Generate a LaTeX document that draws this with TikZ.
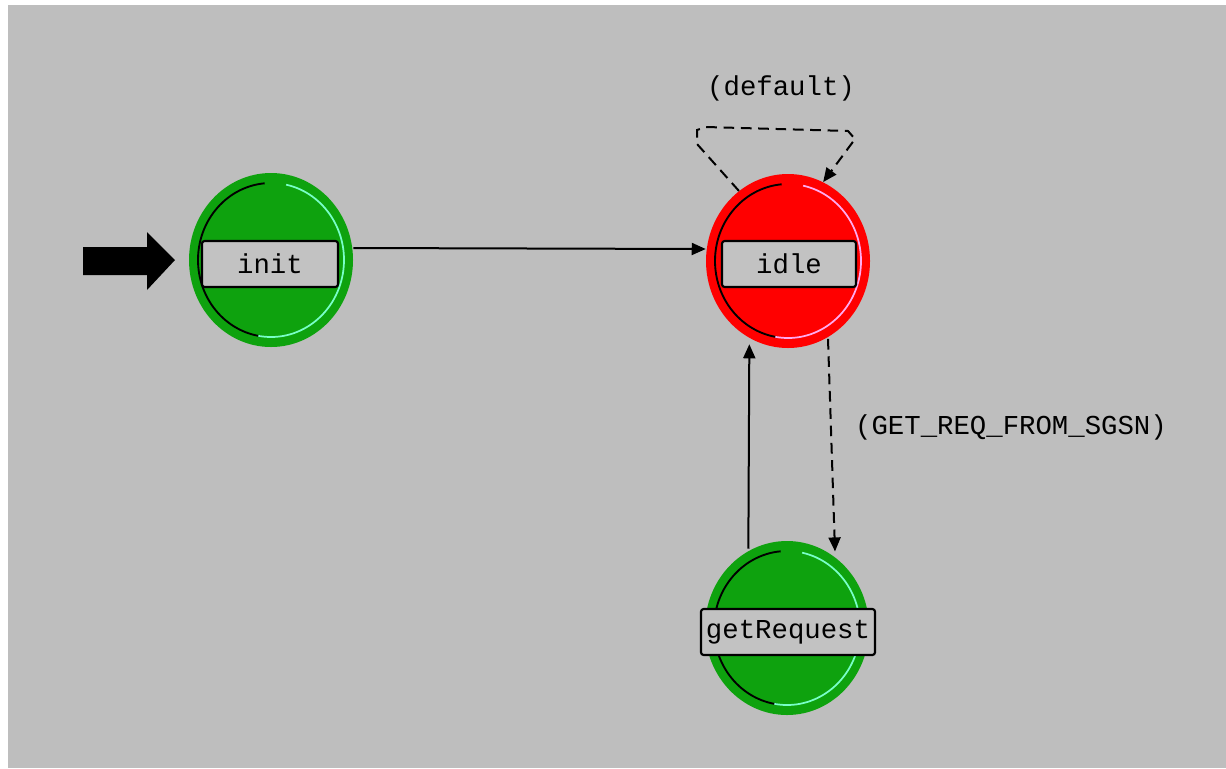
\documentclass[tikz,border=0pt]{standalone}
\usepackage{fontspec}
\newfontfamily\pixfont{Liberation Mono}
\usetikzlibrary{shapes.geometric,arrows.meta}
\definecolor{bg}{RGB}{190,190,190}
\definecolor{boxbg}{RGB}{194,194,194}
\definecolor{stgreen}{RGB}{14,162,14}
\definecolor{stred}{RGB}{255,0,0}
\definecolor{ringcyan}{RGB}{120,255,200}
\definecolor{ringpink}{RGB}{255,170,240}
\tikzset{
  statecirc/.style={ellipse, minimum width=123pt, minimum height=130.5pt, inner sep=0pt, draw=none},
  greenstate/.style={statecirc, fill=stgreen},
  redstate/.style={statecirc, fill=stred},
  labelbox/.style={draw=black, line width=1.6pt, fill=boxbg, rounded corners=2pt,
     minimum height=34.5pt, inner sep=1pt, font=\pixfont\fontsize{20.5}{22}\selectfont},
  txt/.style={font=\pixfont\fontsize{20.5}{22}\selectfont, inner sep=0pt},
  conn/.style={line width=1.5pt, -{Triangle[length=10.5pt,width=9pt]}},
  dconn/.style={conn, dash pattern=on 8pt off 5pt},
  ringdark/.style={line width=1.4pt, black},
}
\begin{document}
\begin{tikzpicture}[x=0.75pt,y=-0.75pt]
\useasboundingbox (0,0) rectangle (1226,768);
\fill[white] (0,0) rectangle (1226,768);
\fill[bg] (8,5) rectangle (1226,768);

% states
\node[greenstate] (initC) at (271,260) {};
\node[redstate] (idleC) at (788,261) {};
\node[greenstate] (grC) at (787,628) {};

% inner rings
\foreach \n/\c in {initC/ringcyan, idleC/ringpink, grC/ringcyan}{
  \draw[ringdark] (\n.center) ++(-95:73 and 77) arc[start angle=-95, end angle=-262, x radius=73, y radius=77];
  \draw[line width=1.3pt, \c] (\n.center) ++(100:73 and 77) arc[start angle=100, end angle=-78, x radius=73, y radius=77];
}

% label boxes
\node[labelbox, minimum width=102pt] (init) at (270,264) {init};
\node[labelbox, minimum width=100.5pt] (idle) at (789,264) {idle};
\node[labelbox, minimum width=130.5pt] (getRequest) at (788,632) {getRequest};

% start arrow
\fill[black] (83,247) -- (147,247) -- (147,232) -- (175,260) -- (147,290) -- (147,275) -- (83,275) -- cycle;

% transitions
\draw[conn] ([yshift=9pt]initC.east) -- ([yshift=9pt]idleC.west);
\draw[conn] ([xshift=-29pt,yshift=-6pt]grC.north) -- ([xshift=-29pt,yshift=3pt]idleC.south);
\draw[dconn] ([xshift=30pt,yshift=7pt]idleC.south) -- ([xshift=36pt,yshift=-8pt]grC.north);
\draw[dconn] (idleC.125) -- (697,144) -- (697,130) -- (706,127) -- (848,131) -- (855,139) -- (idleC.66);

% transition labels
\node[txt] (lblDefault) at (781,88) {(default)};
\node[txt] (lblGet) at (1011,427) {(GET\_REQ\_FROM\_SGSN)};
\end{tikzpicture}
\end{document}
